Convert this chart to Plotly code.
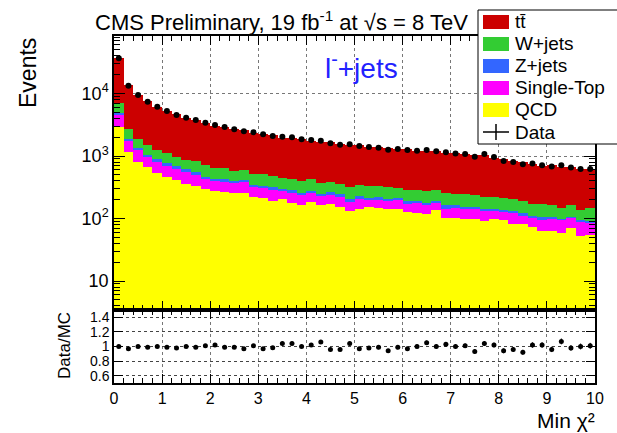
import plotly.graph_objects as go
from plotly.subplots import make_subplots
import numpy as np

# ---------------- data ----------------
bin_edges_lo = [i * 0.2 for i in range(50)]
bin_width = 0.2

qcd = [2940, 1170, 811, 659, 541, 467, 418, 360, 335, 300, 275, 265, 253, 259, 223, 215, 193, 203, 179, 166,
       186, 163, 171, 155, 133, 144, 151, 146, 140, 142, 127, 122, 117, 137, 102, 102, 99, 98, 90, 97,
       95, 81, 82, 74, 63, 64, 59, 70, 53, 54]
single_top = [1540, 570, 419, 305, 270, 233, 209, 195, 167, 124, 123, 123, 117, 125, 92, 96, 96, 76, 80, 72,
              67, 63, 69, 66, 53, 61, 47, 54, 51, 53, 44, 53, 47, 38, 42, 45, 41, 42, 42, 33,
              31, 40, 28, 30, 35, 35, 36, 33, 36, 30]
zjets = [450, 150, 130, 86, 85, 73, 57, 57, 53, 43, 36, 41, 33, 29, 33, 24, 26, 21, 23, 21,
         22, 18, 22, 26, 19, 24, 17, 21, 16, 18, 17, 16, 15, 16, 19, 16, 15, 11, 10, 10,
         11, 11, 11, 7, 6, 5, 4, 4, 6, 8]
wjets = [2030, 810, 510, 450, 354, 347, 280, 262, 277, 243, 201, 221, 179, 184, 167, 180, 164, 145, 142, 144,
         149, 122, 122, 109, 118, 121, 116, 114, 112, 98, 101, 91, 96, 98, 93, 84, 92, 84, 81, 78,
         73, 73, 70, 58, 67, 59, 50, 57, 42, 55]
ttbar = [29540, 11000, 7590, 5970, 4900, 4180, 3660, 3226, 2978, 2666, 2435, 2290, 2118, 1963, 1851, 1775,
         1651, 1515, 1486, 1447, 1341, 1294, 1283, 1227, 1157, 1140, 1087, 1039, 1021, 992, 1000, 933, 915,
         901, 856, 853, 817, 813, 811, 728, 678, 634, 609, 574, 529, 545, 515, 504, 483, 467]
data = [36500, 13300, 9460, 7400, 6150, 5250, 4530, 4100, 3770, 3410, 3130, 2910, 2670, 2480, 2390, 2220,
        2090, 2040, 1990, 1850, 1800, 1760, 1600, 1520, 1540, 1445, 1390, 1360, 1260, 1290, 1250, 1215,
        1250, 1190, 1145, 1100, 1075, 975, 1075, 965, 835, 805, 736, 758, 714, 680, 710, 655, 620, 620]

process_names = ["QCD", "Single-Top", "Z+jets", "W+jets", "tt\u0304"]
process_colors = ["#ffff00", "#ff00ff", "#3366ff", "#33cc33", "#cc0000"]
process_values = [qcd, single_top, zjets, wjets, ttbar]

legend_names = ["tt\u0304", "W+jets", "Z+jets", "Single-Top", "QCD", "Data"]
legend_colors = ["#cc0000", "#33cc33", "#3366ff", "#ff00ff", "#ffff00", None]

x_ticks = list(range(0, 11))
y_tickvals = [10, 100, 1000, 10000]
y_ticktext = ["10", "10<sup>2</sup>", "10<sup>3</sup>", "10<sup>4</sup>"]
r_tickvals = [0.6, 0.8, 1.0, 1.2, 1.4]
r_ticktext = ["0.6", "0.8", "1", "1.2", "1.4"]

# ---------------- geometry ----------------
W, H = 617, 433
ML, MR, MT, MB = 114, 22, 36, 50
PW, PH = W - ML - MR, H - MT - MB
split_px = 310
split = (H - MB - split_px) / PH

def px_x(px):
    return (px - ML) / PW

def px_y(py):
    return 1 - (py - MT) / PH

FONT = "Liberation Sans, Arial, sans-serif"

centers = np.array(bin_edges_lo) + bin_width / 2
data_arr = np.array(data, dtype=float)
mc_total = np.sum(np.array(process_values, dtype=float), axis=0)
ratio = data_arr / mc_total
ratio_err = ratio / np.sqrt(data_arr)

fig = make_subplots(rows=2, cols=1, shared_xaxes=False, vertical_spacing=0,
                    row_heights=[1 - split, split])

for name, col, vals in zip(process_names, process_colors, process_values):
    fig.add_trace(go.Bar(x=centers, y=vals, width=bin_width, name=name,
                         marker=dict(color=col, line=dict(width=0)),
                         showlegend=False), row=1, col=1)

fig.add_trace(go.Scatter(x=centers, y=data, mode="markers", name="Data",
                         marker=dict(color="black", size=6),
                         error_y=dict(type="data", array=np.sqrt(data_arr), thickness=1, width=0, color="black"),
                         showlegend=False), row=1, col=1)

fig.add_trace(go.Scatter(x=centers, y=ratio, mode="markers", name="Data/MC",
                         marker=dict(color="black", size=5),
                         error_y=dict(type="data", array=ratio_err, thickness=1, width=0, color="black"),
                         showlegend=False), row=2, col=1)

fig.update_layout(barmode="stack", bargap=0, width=W, height=H,
                  margin=dict(l=ML, r=MR, t=MT, b=MB, autoexpand=False),
                  plot_bgcolor="white", paper_bgcolor="white",
                  font=dict(family=FONT, size=18, color="black"))

fig.update_layout(
    yaxis=dict(domain=[split, 1]),
    yaxis2=dict(domain=[0, split]),
)

axis_common = dict(showline=True, linecolor="black", linewidth=1.5, mirror="allticks",
                   ticks="inside", tickcolor="black", zeroline=False)

fig.update_xaxes(range=[0, 10], tickvals=x_ticks, ticklen=9, tickwidth=1,
                 showgrid=True, gridcolor="#777777", griddash="dot", gridwidth=1,
                 minor=dict(dtick=0.2, ticks="inside", ticklen=5, tickcolor="black", showgrid=False),
                 **axis_common)
fig.update_xaxes(showticklabels=False, row=1, col=1)
fig.update_xaxes(showticklabels=True, tickfont=dict(size=16), row=2, col=1)

minor_log = [m * 10 ** e for e in range(0, 5) for m in range(2, 10)]
fig.update_yaxes(type="log", range=[0.536, 4.92], tickvals=y_tickvals, ticktext=y_ticktext,
                 ticklen=11, tickwidth=1, tickfont=dict(size=18),
                 showgrid=True, gridcolor="#777777", griddash="dot",
                 minor=dict(tickvals=minor_log, ticks="inside", ticklen=6, tickcolor="black", showgrid=False),
                 row=1, col=1, **axis_common)
fig.update_yaxes(range=[0.5, 1.5], tickvals=r_tickvals, ticktext=r_ticktext,
                 ticklen=9, tickwidth=1, tickfont=dict(size=14),
                 showgrid=True, gridcolor="#444444", griddash="dot",
                 row=2, col=1, **axis_common)

annotations = [
    dict(text="CMS Preliminary, 19 fb<sup>-1</sup> at √s = 8 TeV", x=px_x(281), y=px_y(21),
         xref="paper", yref="paper", showarrow=False, font=dict(size=22), xanchor="center", yanchor="middle"),
    dict(text="l<sup>-</sup>+jets", x=px_x(361), y=px_y(66), xref="paper", yref="paper", showarrow=False,
         font=dict(size=28, color="#2222ff"), xanchor="center", yanchor="middle"),
    dict(text="Events", x=px_x(28), y=px_y(73), xref="paper", yref="paper", showarrow=False,
         textangle=-90, font=dict(size=23), xanchor="center", yanchor="middle"),
    dict(text="Data/MC", x=px_x(64), y=px_y(346), xref="paper", yref="paper", showarrow=False,
         textangle=-90, font=dict(size=17), xanchor="center", yanchor="middle"),
    dict(text="Min χ²", x=px_x(596), y=px_y(433), xref="paper", yref="paper", showarrow=False,
         font=dict(size=21), xanchor="right", yanchor="bottom", borderpad=0),
]

shapes = [dict(type="rect", xref="paper", yref="paper", x0=px_x(478), x1=px_x(618), y0=px_y(144), y1=px_y(10),
               fillcolor="white", line=dict(color="black", width=1), layer="above")]

row0, row_step = 22, 22
for k, (nm, col) in enumerate(zip(legend_names, legend_colors)):
    yc = row0 + k * row_step
    if col is not None:
        shapes.append(dict(type="rect", xref="paper", yref="paper", x0=px_x(483), x1=px_x(509),
                           y0=px_y(yc + 7), y1=px_y(yc - 7), fillcolor=col, line=dict(width=0), layer="above"))
    else:
        shapes.append(dict(type="line", xref="paper", yref="paper", x0=px_x(483), x1=px_x(509),
                           y0=px_y(yc), y1=px_y(yc), line=dict(color="black", width=1.5), layer="above"))
        shapes.append(dict(type="line", xref="paper", yref="paper", x0=px_x(496), x1=px_x(496),
                           y0=px_y(yc + 8), y1=px_y(yc - 8), line=dict(color="black", width=1.5), layer="above"))
    annotations.append(dict(text=nm, x=px_x(513), y=px_y(yc), xref="paper", yref="paper", showarrow=False,
                            font=dict(size=19), xanchor="left", yanchor="middle"))

fig.update_layout(annotations=annotations, shapes=shapes)

fig.write_html("out.html", config={"displayModeBar": False},
               post_script="document.body.style.margin='0';document.body.style.padding='0';")
